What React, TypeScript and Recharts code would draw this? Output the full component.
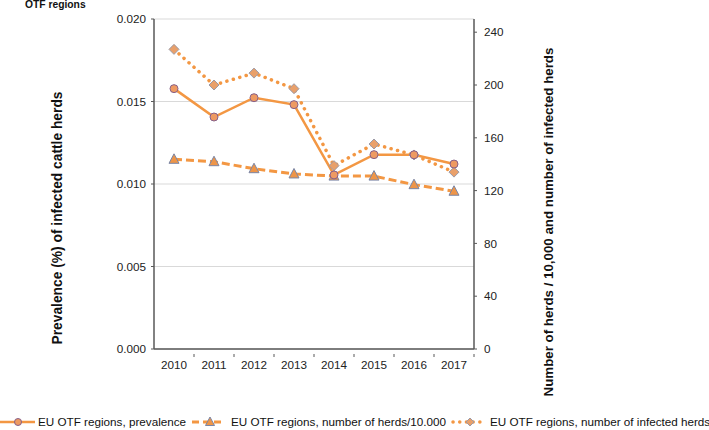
import React from "react"
import { ComposedChart, Line, XAxis, YAxis, CartesianGrid } from "recharts"

const years = ["2010", "2011", "2012", "2013", "2014", "2015", "2016", "2017"]
const prevalence = [0.01578, 0.01406, 0.01523, 0.01481, 0.01055, 0.01178, 0.01177, 0.01121]
const herds = [143.7, 141.9, 136.6, 132.6, 131, 131, 124.5, 119.5]
const infected = [227, 200, 209, 197.2, 138.9, 155.3, 147, 134]

const leftTicks = [0, 0.005, 0.01, 0.015, 0.02]
const rightTicks = [0, 40, 80, 120, 160, 200, 240]

const data = years.map((year, i) => ({
  year,
  prevalence: prevalence[i],
  herds: herds[i],
  infected: infected[i],
}))

const ORANGE = "#F39743"
const AXIS = "#595959"
const FONT = "'Liberation Sans', Arial, sans-serif"

const Triangle = (props: any) => {
  const { cx, cy } = props
  if (cx == null || cy == null) return null
  return (
    <polygon
      points={`${cx},${cy - 5.5} ${cx + 5},${cy + 4} ${cx - 5},${cy + 4}`}
      fill="#EE9548"
      stroke="#7A86A6"
      strokeWidth={1}
    />
  )
}

const Diamond = (props: any) => {
  const { cx, cy } = props
  if (cx == null || cy == null) return null
  return (
    <polygon
      points={`${cx},${cy - 5} ${cx + 5},${cy} ${cx},${cy + 5} ${cx - 5},${cy}`}
      fill="#E9A06A"
      stroke="#9C9AA6"
      strokeWidth={1}
    />
  )
}

const YearTick = (props: any) => {
  const { x, y, payload } = props
  return (
    <g>
      <line x1={x + 20} y1={y - 3} x2={x + 20} y2={y} stroke={AXIS} strokeWidth={1} />
      <text x={x} y={y + 12} textAnchor="middle" fontSize={11.7} fill="#222" fontFamily={FONT}>
        {payload.value}
      </text>
    </g>
  )
}

export default function App() {
  return (
    <div style={{ position: "absolute", left: 0, top: 0, width: 709, height: 430, background: "#fff", fontFamily: FONT }}>
      <div style={{ position: "absolute", left: 25, top: -1, fontSize: 10.3, fontWeight: "bold", color: "#111" }}>
        OTF regions
      </div>
      <ComposedChart width={709} height={430} data={data} margin={{ top: 19, right: 0, bottom: 0, left: 0 }}>
        <CartesianGrid vertical={false} stroke="#D9D9D9" yAxisId="left" />
        <XAxis
          dataKey="year"
          height={81}
          padding={{ left: 20, right: 20 }}
          tickLine={false}
          axisLine={{ stroke: AXIS, strokeWidth: 1.5 }}
          tick={<YearTick />}
          interval={0}
        />
        <YAxis
          yAxisId="left"
          width={154}
          domain={[0, 0.02]}
          ticks={leftTicks}
          tickFormatter={(v: number) => v.toFixed(3)}
          tickSize={3}
          tickMargin={5}
          tickLine={{ stroke: AXIS }}
          axisLine={{ stroke: AXIS, strokeWidth: 1.5 }}
          tick={{ fontSize: 11.7, fill: "#222", fontFamily: FONT }}
          label={{
            content: () => (
              <text
                x={57}
                y={218}
                transform="rotate(-90 57 218)"
                textAnchor="middle"
                dominantBaseline="central"
                fontSize={13.8}
                fontWeight="bold"
                fill="#111"
                fontFamily={FONT}
              >
                Prevalence (%) of infected cattle herds
              </text>
            ),
          }}
        />
        <YAxis
          yAxisId="right"
          orientation="right"
          width={235}
          domain={[0, 250]}
          ticks={rightTicks}
          tickSize={3}
          tickMargin={7}
          tickLine={{ stroke: AXIS }}
          axisLine={{ stroke: AXIS, strokeWidth: 1.5 }}
          tick={{ fontSize: 11.7, fill: "#222", fontFamily: FONT, textAnchor: "start" }}
          label={{
            content: () => (
              <text
                x={548}
                y={222}
                transform="rotate(-90 548 222)"
                textAnchor="middle"
                dominantBaseline="central"
                fontSize={13.3}
                fontWeight="bold"
                fill="#111"
                fontFamily={FONT}
              >
                Number of  herds / 10,000 and number of infected herds
              </text>
            ),
          }}
        />
        <Line
          yAxisId="right"
          dataKey="infected"
          stroke={ORANGE}
          strokeWidth={3.5}
          strokeDasharray="0.1 6.6"
          strokeLinecap="round"
          dot={<Diamond />}
          activeDot={false}
          isAnimationActive={false}
        />
        <Line
          yAxisId="right"
          dataKey="herds"
          stroke={ORANGE}
          strokeWidth={3}
          strokeDasharray="8 4"
          dot={<Triangle />}
          activeDot={false}
          isAnimationActive={false}
        />
        <Line
          yAxisId="left"
          dataKey="prevalence"
          stroke={ORANGE}
          strokeWidth={2.5}
          dot={{ r: 4, fill: "#EE9A62", stroke: "#86608A", strokeWidth: 1 }}
          activeDot={false}
          isAnimationActive={false}
        />
      </ComposedChart>
      <div
        style={{
          position: "absolute",
          left: 0,
          top: 414,
          width: 709,
          height: 16,
          fontSize: 11.7,
          color: "#111",
          whiteSpace: "nowrap",
        }}
      >
        <svg width={36} height={16} style={{ position: "absolute", left: 0, top: 0 }}>
          <line x1={0} y1={8} x2={35} y2={8} stroke={ORANGE} strokeWidth={2.5} />
          <circle cx={18} cy={8} r={3.5} fill="#EE9A62" stroke="#86608A" strokeWidth={1} />
        </svg>
        <span style={{ position: "absolute", left: 38, top: 1 }}>EU OTF regions, prevalence</span>
        <svg width={32} height={16} style={{ position: "absolute", left: 192, top: 0 }}>
          <line x1={0} y1={8} x2={31} y2={8} stroke={ORANGE} strokeWidth={3} strokeDasharray="7 4" />
          <polygon points="18,3 22.5,11.5 13.5,11.5" fill="#EE9548" stroke="#7A86A6" strokeWidth={1} />
        </svg>
        <span style={{ position: "absolute", left: 231, top: 1 }}>EU OTF regions, number of herds/10.000</span>
        <svg width={34} height={16} style={{ position: "absolute", left: 451, top: 0 }}>
          <line x1={2} y1={8} x2={32} y2={8} stroke={ORANGE} strokeWidth={3.5} strokeDasharray="0.1 6.6" strokeLinecap="round" />
          <polygon points="19,4 23,8 19,12 15,8" fill="#E9A06A" stroke="#9C9AA6" strokeWidth={1} />
        </svg>
        <span style={{ position: "absolute", left: 490, top: 1 }}>EU OTF regions, number of infected herds</span>
      </div>
    </div>
  )
}
